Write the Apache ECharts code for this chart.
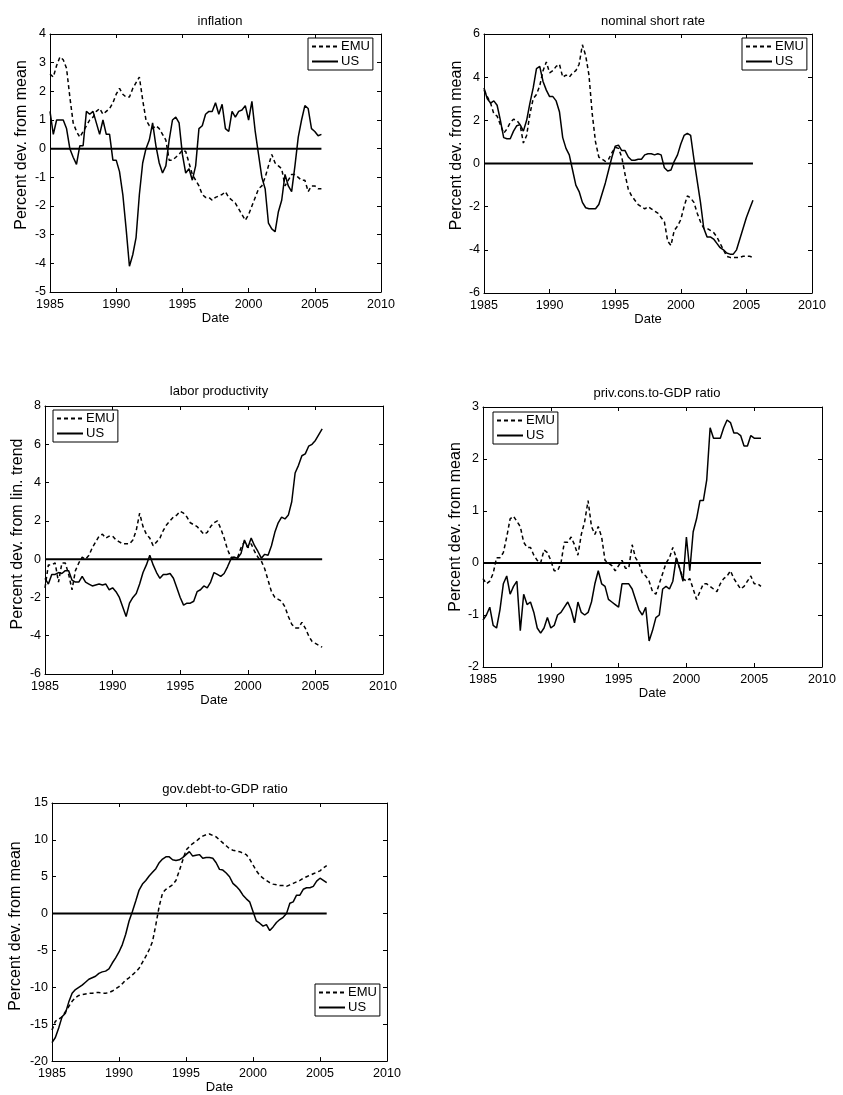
<!DOCTYPE html>
<html><head><meta charset="utf-8">
<script src="https://cdn.jsdelivr.net/npm/echarts@6.0.0/dist/echarts.min.js"></script>
<style>html,body{margin:0;padding:0;background:#fff}#c{width:843px;height:1095px}</style>
</head><body><div id="c"></div><script>
// quarterly dates 1985Q1 .. 2005Q3
const dates = [];
for (let i = 0; i < 83; i++) dates.push(1985 + i * 0.25);
const xTicks = [1985, 1990, 1995, 2000, 2005, 2010];

const inflUS = [
 1.3,0.5,1.0,1.0, 1.0,0.7,0.0,-0.3, -0.55,0.1,0.1,1.3, 1.2,1.3,0.9,0.5, 1.0,0.5,0.5,-0.4,
 -0.4,-0.8,-1.6,-2.8, -4.1,-3.7,-3.1,-1.6, -0.5,0.0,0.3,0.9, 0.1,-0.5,-0.85,-0.6, 0.3,1.0,1.1,0.9,
 -0.2,-0.85,-0.7,-1.1, -0.6,0.7,0.8,1.2, 1.3,1.3,1.6,1.2, 1.55,0.7,0.6,1.3, 1.1,1.3,1.35,1.5,
 1.0,1.65,0.6,-0.2, -1.0,-1.4,-2.6,-2.8, -2.9,-2.2,-1.8,-0.9, -1.3,-1.5,-0.6,0.4, 1.0,1.5,1.4,0.7,
 0.6,0.45,0.5];
const inflEMU = [
 2.6,2.5,2.9,3.2, 3.1,2.8,1.8,0.9, 0.6,0.4,0.6,0.8, 1.0,1.1,1.3,1.4, 1.2,1.3,1.4,1.6,
 1.9,2.1,1.9,1.8, 1.8,2.1,2.3,2.5, 1.7,1.0,0.8,0.7, 0.8,0.7,0.5,0.3, -0.4,-0.4,-0.3,-0.2,
 -0.05,-0.1,-0.5,-0.9, -1.1,-1.3,-1.6,-1.7, -1.7,-1.8,-1.7,-1.65, -1.6,-1.5,-1.7,-1.8, -1.9,-2.1,-2.3,-2.5,
 -2.3,-2.0,-1.7,-1.4, -1.3,-1.0,-0.6,-0.2, -0.5,-0.6,-0.7,-1.3, -1.1,-0.9,-0.9,-1.0, -1.1,-1.1,-1.5,-1.3,
 -1.3,-1.4,-1.4];

const rateUS = [
 3.5,3.0,2.8,2.9, 2.7,2.0,1.2,1.15, 1.15,1.5,1.75,1.8, 1.5,2.0,2.8,3.5, 4.4,4.5,3.8,3.4,
 3.1,3.1,2.9,2.4, 1.2,0.7,0.4,-0.3, -1.0,-1.3,-1.8,-2.05, -2.1,-2.1,-2.1,-1.9, -1.4,-0.9,-0.3,0.3,
 0.8,0.85,0.6,0.6, 0.3,0.15,0.15,0.2, 0.2,0.4,0.45,0.45, 0.4,0.45,0.4,-0.2, -0.35,-0.3,0.1,0.4,
 0.9,1.3,1.4,1.3, 0.2,-0.8,-1.8,-3.0, -3.4,-3.4,-3.5,-3.7, -3.9,-4.0,-4.15,-4.2, -4.2,-4.0,-3.5,-3.0,
 -2.5,-2.1,-1.7];
const rateEMU = [
 3.4,3.1,2.8,2.3, 2.2,1.8,1.4,1.6, 1.9,2.05,2.0,1.8, 0.95,1.3,2.3,3.0, 3.2,3.6,4.3,4.7,
 4.2,4.3,4.5,4.6, 4.0,4.1,4.0,4.2, 4.3,4.6,5.5,5.0, 4.1,2.3,1.0,0.3, 0.2,0.1,0.2,0.5,
 0.75,0.7,0.3,-0.5, -1.2,-1.5,-1.7,-1.9, -2.0,-2.1,-2.0,-2.1, -2.2,-2.3,-2.5,-2.7, -3.6,-3.8,-3.1,-2.9,
 -2.6,-2.0,-1.5,-1.6, -1.8,-2.3,-2.7,-3.0, -3.0,-3.1,-3.2,-3.4, -3.7,-4.0,-4.3,-4.35, -4.35,-4.35,-4.35,-4.3,
 -4.3,-4.3,-4.35];

const prodUS = [
 -1.0,-1.3,-0.8,-0.8, -0.7,-0.75,-0.6,-0.6, -1.1,-1.2,-1.2,-0.9, -1.2,-1.3,-1.4,-1.35, -1.3,-1.35,-1.3,-1.6,
 -1.5,-1.7,-2.0,-2.5, -3.0,-2.3,-2.0,-1.8, -1.3,-0.7,-0.3,0.2, -0.3,-0.7,-1.0,-0.8, -0.8,-0.75,-1.0,-1.5,
 -2.0,-2.4,-2.3,-2.3, -2.2,-1.7,-1.6,-1.4, -1.5,-1.2,-0.7,-0.8, -0.9,-0.75,-0.4,0.0, 0.1,0.05,0.3,1.0,
 0.6,1.1,0.7,0.4, 0.05,0.25,0.2,0.7, 1.4,1.9,2.2,2.1, 2.3,3.0,4.5,4.9, 5.4,5.5,5.9,6.0,
 6.2,6.5,6.8];
const prodEMU = [
 -1.5,-0.3,-0.3,-0.2, -1.2,-0.2,-0.2,-0.8, -1.6,-0.6,-0.2,0.1, 0.0,0.2,0.6,0.9, 1.2,1.3,1.1,1.2,
 1.2,1.0,0.9,0.8, 0.8,0.8,1.0,1.5, 2.4,1.7,1.3,1.1, 0.7,0.9,1.1,1.5, 1.8,2.0,2.2,2.3,
 2.5,2.4,2.2,1.9, 1.8,1.7,1.5,1.3, 1.4,1.7,1.9,2.0, 1.6,1.1,0.5,0.1, 0.1,0.1,0.6,0.9,
 0.6,0.8,0.4,0.1, -0.1,-0.5,-1.1,-1.7, -2.0,-2.1,-2.2,-2.5, -3.0,-3.4,-3.6,-3.6, -3.3,-3.6,-4.0,-4.3,
 -4.4,-4.5,-4.6];

const consUS = [
 -1.1,-1.0,-0.85,-1.2, -1.25,-0.9,-0.4,-0.25, -0.6,-0.45,-0.35,-1.3, -0.6,-0.8,-0.75,-0.95, -1.25,-1.35,-1.25,-1.05,
 -1.25,-1.2,-1.0,-0.95, -0.85,-0.75,-0.9,-1.15, -0.75,-0.95,-1.0,-0.95, -0.75,-0.4,-0.15,-0.4, -0.45,-0.7,-0.75,-0.8,
 -0.85,-0.4,-0.4,-0.4, -0.5,-0.7,-0.9,-1.0, -0.85,-1.5,-1.3,-1.05, -1.0,-0.5,-0.45,-0.5, -0.35,0.1,-0.1,-0.35,
 0.5,-0.15,0.6,0.85, 1.2,1.2,1.6,2.6, 2.4,2.4,2.4,2.6, 2.75,2.7,2.5,2.5, 2.45,2.25,2.25,2.45,
 2.4,2.4,2.4];
const consEMU = [
 -0.3,-0.4,-0.35,-0.2, 0.1,0.1,0.2,0.5, 0.85,0.9,0.8,0.7, 0.4,0.3,0.3,0.15, 0.05,0.0,0.25,0.2,
 0.05,-0.15,-0.15,0.0, 0.4,0.4,0.5,0.35, 0.15,0.55,0.8,1.2, 0.7,0.55,0.7,0.5, 0.05,0.0,-0.05,-0.15,
 -0.05,0.05,-0.1,-0.1, 0.35,0.1,0.0,-0.2, -0.25,-0.35,-0.55,-0.6, -0.4,-0.2,0.0,0.1, 0.3,0.1,-0.1,-0.3,
 -0.35,-0.3,-0.5,-0.7, -0.55,-0.4,-0.4,-0.45, -0.5,-0.55,-0.4,-0.3, -0.25,-0.15,-0.3,-0.4, -0.5,-0.45,-0.35,-0.25,
 -0.4,-0.4,-0.45];

const debtUS = [
 -17.5,-16.8,-15.5,-14.0, -13.5,-12.0,-10.8,-10.3, -10.0,-9.7,-9.3,-8.9, -8.7,-8.5,-8.1,-7.9, -7.8,-7.5,-6.7,-6.0,
 -5.2,-4.2,-2.8,-1.0, 0.3,1.7,3.2,4.0, 4.5,5.1,5.6,6.1, 6.9,7.4,7.7,7.7, 7.3,7.2,7.3,7.6,
 8.0,8.4,7.8,7.9, 8.0,7.5,7.6,7.6, 7.5,6.9,6.0,5.9, 5.5,5.0,4.1,3.7, 3.2,2.5,2.0,1.6,
 0.3,-1.0,-1.3,-1.7, -1.5,-2.3,-1.8,-1.2, -0.8,-0.5,0.0,1.4, 1.6,2.5,2.5,3.3, 3.5,3.5,3.7,4.4,
 4.8,4.5,4.2];
const debtEMU = [
 -15.8,-14.6,-14.3,-14.0, -13.3,-12.6,-11.9,-11.4, -11.1,-11.0,-10.9,-10.8, -10.8,-10.7,-10.7,-10.8, -10.8,-10.7,-10.5,-10.2,
 -9.9,-9.5,-9.0,-8.7, -8.3,-7.9,-7.4,-6.6, -5.8,-4.9,-3.8,-1.5, 1.0,2.8,3.3,3.6, 3.9,4.5,5.8,7.2,
 8.6,9.1,9.5,9.8, 10.2,10.5,10.7,10.8, 10.6,10.4,10.0,9.6, 9.2,8.8,8.6,8.5, 8.4,8.2,8.0,7.4,
 6.6,5.8,5.2,4.8, 4.5,4.2,4.0,3.9, 3.8,3.8,3.7,3.9, 4.1,4.3,4.5,4.8, 5.0,5.2,5.4,5.6,
 5.8,6.2,6.5];

const titles = ['inflation','nominal short rate','labor productivity','priv.cons.to-GDP ratio','gov.debt-to-GDP ratio'];
const yNames = ['Percent dev. from mean','Percent dev. from mean','Percent dev. from lin. trend','Percent dev. from mean','Percent dev. from mean'];
const emuSeries = [inflEMU, rateEMU, prodEMU, consEMU, debtEMU];
const usSeries = [inflUS, rateUS, prodUS, consUS, debtUS];
const yRanges = [[-5,4,1],[-6,6,2],[-6,8,2],[-2,3,1],[-20,15,5]];

// layout
const layout = [
 {grid:{left:50,top:34,width:331,height:258}, tx:215, ty:10, lg:{left:308,top:38}, ng:20, up:18},
 {grid:{left:484,top:34,width:328,height:259}, tx:648, ty:10, lg:{left:742,top:38}, ng:18, up:18},
 {grid:{left:45,top:406,width:338,height:268}, tx:214, ty:380, lg:{left:53,top:410}, ng:19, up:6},
 {grid:{left:483,top:407,width:339,height:260}, tx:652, ty:382, lg:{left:493,top:412}, ng:18, up:10},
 {grid:{left:52,top:803,width:335,height:262}, tx:220, ty:778, lg:{left:315,top:984}, ng:28, up:6}
];

const FONT = 'Liberation Sans, Arial, Helvetica, sans-serif';
const opt = {backgroundColor:'#fff', animation:false, grid:[], xAxis:[], yAxis:[], series:[], title:[], legend:[]};
const toPairs = arr => arr.map((v,i)=>[dates[i], v]);

layout.forEach((L, k) => {
  opt.grid.push(Object.assign({containLabel:false}, L.grid));
  const tickStyle = {show:true, inside:true, length:4, lineStyle:{color:'#000', width:1}};
  const lineStyle = {show:true, onZero:false, lineStyle:{color:'#000', width:1}};
  opt.xAxis.push({gridIndex:k, type:'value', min:xTicks[0], max:xTicks[xTicks.length-1], interval:5,
    position:'bottom', axisLine:lineStyle, axisTick:tickStyle, splitLine:{show:false},
    axisLabel:{color:'#000', fontSize:12.5, fontFamily:FONT, margin:6, formatter:v=>String(v)},
    name:'Date', nameLocation:'middle', nameGap:19, nameTextStyle:{color:'#000', fontSize:13, fontFamily:FONT}});
  opt.xAxis.push({gridIndex:k, type:'value', min:xTicks[0], max:xTicks[xTicks.length-1], interval:5,
    position:'top', axisLine:lineStyle, axisTick:tickStyle, splitLine:{show:false}, axisLabel:{show:false}});
  const [ymin, ymax, yint] = yRanges[k];
  opt.yAxis.push({gridIndex:k, type:'value', min:ymin, max:ymax, interval:yint, position:'left',
    axisLine:lineStyle, axisTick:tickStyle, splitLine:{show:false},
    axisLabel:{color:'#000', fontSize:12.5, fontFamily:FONT, margin:4},
    name:yNames[k], nameLocation:'middle', nameGap:L.ng, nameRotate:90,
    nameTextStyle:{color:'#000', fontSize:16, fontFamily:FONT, padding:[0,0,0,2*L.up]}});
  opt.yAxis.push({gridIndex:k, type:'value', min:ymin, max:ymax, interval:yint, position:'right',
    axisLine:lineStyle, axisTick:tickStyle, splitLine:{show:false}, axisLabel:{show:false}});
  const xi = 2*k, yi = 2*k;
  opt.series.push({type:'line', name:'zero', xAxisIndex:xi, yAxisIndex:yi, symbol:'none', silent:true,
    data:[[dates[0],0],[dates[dates.length-1],0]], lineStyle:{color:'#000', width:2}, z:1});
  opt.series.push({type:'line', name:'EMU', xAxisIndex:xi, yAxisIndex:yi, symbol:'none',
    data:toPairs(emuSeries[k]), lineStyle:{color:'#000', width:1.5, type:[4,3]}, itemStyle:{color:'#000'}, z:2});
  opt.series.push({type:'line', name:'US', xAxisIndex:xi, yAxisIndex:yi, symbol:'none',
    data:toPairs(usSeries[k]), lineStyle:{color:'#000', width:1.5}, itemStyle:{color:'#000'}, z:3});
  opt.title.push({text:titles[k], left:L.tx, top:L.ty, textAlign:'center',
    textStyle:{color:'#000', fontSize:13, fontWeight:'normal', fontFamily:FONT}});
  opt.legend.push({data:['EMU','US'], orient:'vertical', left:L.lg.left, top:L.lg.top,
    itemWidth:26, itemHeight:12, itemGap:2, padding:[2,3,2,3], borderColor:'#000', borderWidth:1,
    backgroundColor:'#fff', selectedMode:false,
    itemStyle:{opacity:0, color:'rgba(0,0,0,0)', borderColor:'rgba(0,0,0,0)', borderWidth:0},
    textStyle:{color:'#000', fontSize:13, fontFamily:FONT, padding:[0,0,0,-2]}});
});

const chart = echarts.init(document.getElementById('c'), null, {renderer:'canvas'});
chart.setOption(opt);
</script></body></html>
